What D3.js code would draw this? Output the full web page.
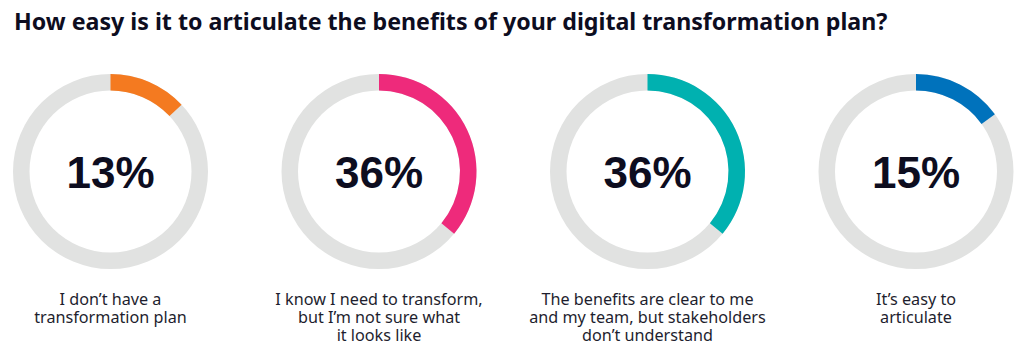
<!DOCTYPE html>
<html><head><meta charset="utf-8">
<script src="https://cdn.jsdelivr.net/npm/d3@7"></script>
<style>
html,body{margin:0;padding:0;background:#fff;}
svg{display:block;}
</style></head>
<body>
<svg id="chart" width="1024" height="356"></svg>
<script>
const title = "How easy is it to articulate the benefits of your digital transformation plan?";
const categories = [
  ["I don\u2019t have a", "transformation plan"],
  ["I know I need to transform,", "but I\u2019m not sure what", "it looks like"],
  ["The benefits are clear to me", "and my team, but stakeholders", "don\u2019t understand"],
  ["It\u2019s easy to", "articulate"]
];
const values = [13, 36, 36, 15];
const colors = ["#F47A20", "#EE2A7B", "#00B1B0", "#0072BC"];
const trackColor = "#E1E2E1";

const svg = d3.select("#chart");

svg.append("text")
  .attr("x", 14).attr("y", 30)
  .attr("font-family", "Noto Sans, sans-serif")
  .attr("font-weight", 700)
  .attr("font-size", 23.2)
  .attr("fill", "#0d0d1f")
  .text(title);

const x = d3.scalePoint().domain(d3.range(values.length)).range([110.5, 916]);
const cy = 171.5, rOuter = 97.5, rInner = 81;
const pct = d3.scaleLinear().domain([0, 100]).range([0, 2 * Math.PI]);
const arc = d3.arc().innerRadius(rInner).outerRadius(rOuter);

const g = svg.selectAll("g.donut").data(values).join("g")
  .attr("class", "donut")
  .attr("transform", (d, i) => `translate(${x(i)},${cy})`);

g.append("path")
  .attr("d", arc({startAngle: 0, endAngle: 2 * Math.PI}))
  .attr("fill", trackColor);

g.append("path")
  .attr("d", d => arc({startAngle: 0, endAngle: pct(d)}))
  .attr("fill", (d, i) => colors[i]);

g.append("text")
  .attr("text-anchor", "middle")
  .attr("y", 16)
  .attr("font-family", "Liberation Sans, Arial, sans-serif")
  .attr("font-weight", 700)
  .attr("font-size", 44)
  .attr("fill", "#0d0d1f")
  .text(d => d + "%");

const lab = svg.selectAll("text.lab").data(categories).join("text")
  .attr("class", "lab")
  .attr("text-anchor", "middle")
  .attr("font-family", "Noto Sans, sans-serif")
  .attr("font-size", 16.2)
  .attr("fill", "#1e1e2e");
lab.selectAll("tspan").data((d, i) => d.map(s => ({s, i}))).join("tspan")
  .attr("x", d => x(d.i))
  .attr("y", (d, j) => 305 + j * 18)
  .text(d => d.s);
</script>
</body></html>
